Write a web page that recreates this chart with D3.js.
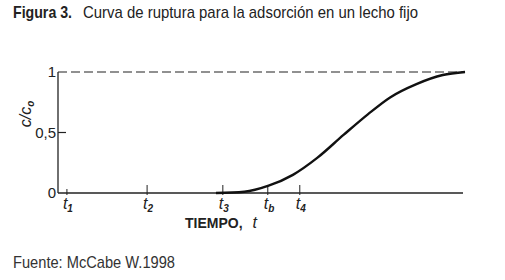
<!DOCTYPE html>
<html>
<head>
<meta charset="utf-8">
<script src="https://cdn.jsdelivr.net/npm/d3@7"></script>
<style>
  body { margin: 0; background: #fff; }
  svg text { fill: #222; }
  .cap { font-family: "Liberation Sans", Arial, sans-serif; fill: #333; }
</style>
</head>
<body>
<div id="chart"></div>
<script>
// breakthrough curve (time in arbitrary units 0..10)
let curveTime = [3.9, 4.6, 5.2, 5.8, 6.4, 7.05, 7.65, 8.2, 8.85, 9.5, 10.05];
let curveConc = [0, 0.01, 0.06, 0.15, 0.29, 0.48, 0.65, 0.79, 0.9, 0.975, 1.0];

// named times on the x axis
let tickNames = ["1", "2", "3", "b", "4"];
let tickTimes = [0.22, 2.2, 4.07, 5.18, 5.97];

let yTicks = [0, 0.5, 1];
let yTickLabels = ["0", "0,5", "1"];

let svg = d3.select("#chart").append("svg")
    .attr("width", 505)
    .attr("height", 280);

// title + source (condensed look via textLength)
let title = svg.append("g").attr("class", "cap");
title.append("text")
    .attr("x", 13).attr("y", 18)
    .attr("textLength", 59).attr("lengthAdjust", "spacingAndGlyphs")
    .style("font-size", "17px").style("font-weight", "bold")
    .text("Figura 3.");
title.append("text")
    .attr("x", 83).attr("y", 18)
    .attr("textLength", 335).attr("lengthAdjust", "spacingAndGlyphs")
    .style("font-size", "17px")
    .text("Curva de ruptura para la adsorción en un lecho fijo");

svg.append("text")
    .attr("class", "cap")
    .attr("x", 13)
    .attr("y", 268)
    .attr("textLength", 162).attr("lengthAdjust", "spacingAndGlyphs")
    .style("font-size", "17px")
    .text("Fuente: McCabe W.1998");

let x = d3.scaleLinear().domain([0, 10]).range([58, 463]);
let y = d3.scaleLinear().domain([0, 1]).range([193, 72]);

// axes
svg.append("line")
    .attr("x1", x(0)).attr("x2", x(10))
    .attr("y1", y(0)).attr("y2", y(0))
    .attr("stroke", "#222").attr("stroke-width", 1.3);

svg.append("line")
    .attr("x1", x(0)).attr("x2", x(0))
    .attr("y1", y(0)).attr("y2", y(1))
    .attr("stroke", "#222").attr("stroke-width", 1.3);

// dashed c = c0 line
svg.append("line")
    .attr("x1", x(0)).attr("x2", x(10.05))
    .attr("y1", y(1)).attr("y2", y(1))
    .attr("stroke", "#222").attr("stroke-width", 1.2)
    .attr("stroke-dasharray", "9,4");

// y ticks
svg.selectAll(".ytick")
    .data(yTicks.filter(d => d === 0.5))
    .enter().append("line")
    .attr("x1", x(0)).attr("x2", x(0) + 8)
    .attr("y1", d => y(d)).attr("y2", d => y(d))
    .attr("stroke", "#222").attr("stroke-width", 1.2);

svg.selectAll(".ylab")
    .data(yTicks)
    .enter().append("text")
    .attr("x", x(0) - 2)
    .attr("y", d => y(d) + 5)
    .attr("text-anchor", "end")
    .style("font-family", "Liberation Sans, Arial, sans-serif")
    .style("font-size", "15px")
    .text((d, i) => yTickLabels[i]);

// y title c/c0
let yt = svg.append("text")
    .attr("transform", "translate(31,114) rotate(-90)")
    .attr("text-anchor", "middle")
    .style("font-family", "Liberation Sans, Arial, sans-serif")
    .style("font-style", "italic")
    .style("font-size", "16px");
yt.append("tspan").text("c/c");
yt.append("tspan").attr("dy", 3).style("font-size", "10px").style("font-weight", "bold").text("o");

// x ticks
svg.selectAll(".xtick")
    .data(tickTimes)
    .enter().append("line")
    .attr("x1", d => x(d)).attr("x2", d => x(d))
    .attr("y1", (d, i) => y(0) - (i === 0 ? 4 : 8)).attr("y2", y(0) + 2)
    .attr("stroke", "#222").attr("stroke-width", 1);

let tl = svg.selectAll(".xlab")
    .data(tickTimes)
    .enter().append("text")
    .attr("x", d => x(d) - 4)
    .attr("y", 209)
    .style("font-family", "Liberation Sans, Arial, sans-serif")
    .style("font-style", "italic")
    .style("font-size", "16px");
tl.append("tspan").text("t");
tl.append("tspan").attr("dy", 3).style("font-size", "10px").style("font-weight", "bold")
    .text((d, i) => tickNames[i]);

// x title
let xt = svg.append("text")
    .attr("x", 185)
    .attr("y", 228)
    .style("font-family", "Liberation Sans, Arial, sans-serif")
    .style("font-size", "14px");
xt.append("tspan").style("font-weight", "bold").text("TIEMPO,");
xt.append("tspan").attr("dx", 10)
    .style("font-style", "italic").style("font-size", "16px").text("t");

// breakthrough curve
let pts = curveTime.map((t, i) => [t, curveConc[i]]);
svg.append("path")
    .datum(pts)
    .attr("fill", "none")
    .attr("stroke", "#111")
    .attr("stroke-width", 2.4)
    .attr("d", d3.line().x(d => x(d[0])).y(d => y(d[1])).curve(d3.curveMonotoneX));
</script>
</body>
</html>
